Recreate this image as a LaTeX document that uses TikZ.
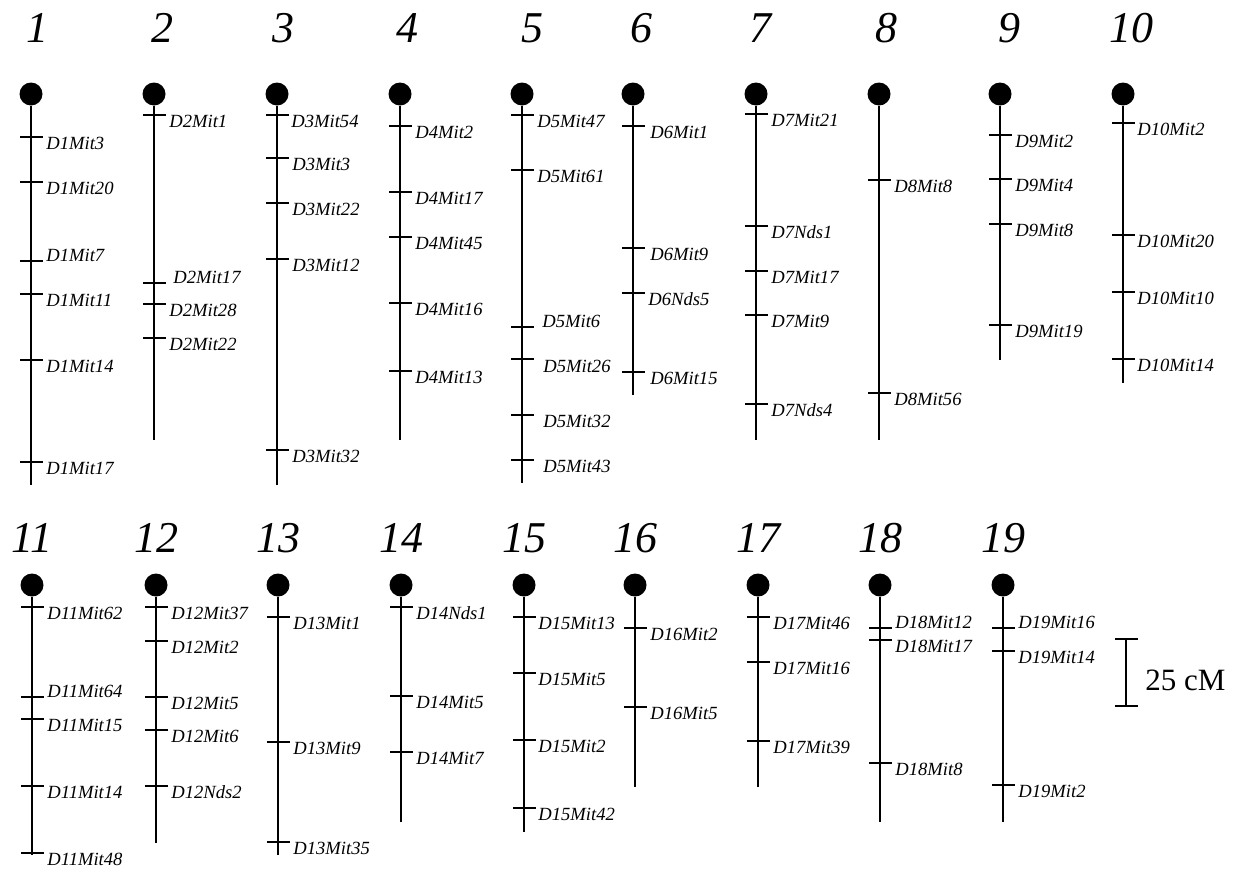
\documentclass[tikz,border=0pt]{standalone}
\usepackage{fontspec}
\setmainfont{Liberation Serif}
\tikzset{
  chr/.style={line width=1pt},
  tk/.style={line width=1pt},
  cent/.style={circle, fill=black, draw=none, inner sep=0pt, minimum size=11.5pt},
  mlab/.style={anchor=base west, inner sep=0pt, font=\fontsize{9.3}{11}\selectfont\itshape},
  num/.style={inner sep=0pt, font=\fontsize{22}{26}\selectfont\itshape},
  scl/.style={anchor=base west, inner sep=0pt, font=\fontsize{15.5}{18}\selectfont}
}
% #1 id, #2 x, #3 circle y, #4 end y, #5 number x offset, #6 number y
\newcommand{\chromo}[6]{%
  \node[cent] (c#1) at (#2,#3) {};
  \coordinate (e#1) at (#2,#4);
  \draw[chr] (c#1) -- (e#1);
  \node[num] (n#1) at (#2+#5,#6) {#1};
}
% #1 x, #2 tick y, #3 label, #4 dx, #5 dy
\newcommand{\mk}[5]{%
  \coordinate (#3-a) at (#1-11,#2);
  \coordinate (#3-b) at (#1+12,#2);
  \draw[tk] (#3-a) -- (#3-b);
  \node[mlab] (#3) at (#1+15+#4,#2+12+#5) {#3};
}
\begin{document}
\begin{tikzpicture}[x=0.5pt,y=-0.5pt]
\useasboundingbox (0,0) rectangle (1234,868);
% ---------- top row ----------
\chromo{1}{31}{94}{485}{6}{28}
\mk{31}{137}{D1Mit3}{0}{0}
\mk{31}{182}{D1Mit20}{0}{0}
\mk{31}{261}{D1Mit7}{0}{-12}
\mk{31}{294}{D1Mit11}{0}{0}
\mk{31}{360}{D1Mit14}{0}{0}
\mk{31}{462}{D1Mit17}{0}{0}

\chromo{2}{154}{94}{440}{8}{28}
\mk{154}{115}{D2Mit1}{0}{0}
\mk{154}{283}{D2Mit17}{4}{-12}
\mk{154}{304}{D2Mit28}{0}{0}
\mk{154}{338}{D2Mit22}{0}{0}

\chromo{3}{277}{94}{485}{6}{28}
\mk{277}{115}{D3Mit54}{-1}{0}
\mk{277}{158}{D3Mit3}{0}{0}
\mk{277}{203}{D3Mit22}{0}{0}
\mk{277}{259}{D3Mit12}{0}{0}
\mk{277}{450}{D3Mit32}{0}{0}

\chromo{4}{400}{94}{440}{7}{28}
\mk{400}{126}{D4Mit2}{0}{0}
\mk{400}{192}{D4Mit17}{0}{0}
\mk{400}{237}{D4Mit45}{0}{0}
\mk{400}{303}{D4Mit16}{0}{0}
\mk{400}{371}{D4Mit13}{0}{0}

\chromo{5}{522}{94}{483}{10}{28}
\mk{522}{115}{D5Mit47}{0}{0}
\mk{522}{170}{D5Mit61}{0}{0}
\mk{522}{327}{D5Mit6}{5}{-12}
\mk{522}{359}{D5Mit26}{6}{1}
\mk{522}{415}{D5Mit32}{6}{0}
\mk{522}{460}{D5Mit43}{6}{0}

\chromo{6}{633}{94}{395}{8}{28}
\mk{633}{126}{D6Mit1}{2}{0}
\mk{633}{248}{D6Mit9}{2}{0}
\mk{633}{293}{D6Nds5}{0}{0}
\mk{633}{372}{D6Mit15}{2}{0}

\chromo{7}{756}{94}{440}{4}{28}
\mk{756}{114}{D7Mit21}{0}{0}
\mk{756}{226}{D7Nds1}{0}{0}
\mk{756}{271}{D7Mit17}{0}{0}
\mk{756}{315}{D7Mit9}{0}{0}
\mk{756}{404}{D7Nds4}{0}{0}

\chromo{8}{879}{94}{440}{7}{28}
\mk{879}{180}{D8Mit8}{0}{0}
\mk{879}{393}{D8Mit56}{0}{0}

\chromo{9}{1000}{94}{360}{9}{28}
\mk{1000}{135}{D9Mit2}{0}{0}
\mk{1000}{179}{D9Mit4}{0}{0}
\mk{1000}{224}{D9Mit8}{0}{0}
\mk{1000}{325}{D9Mit19}{0}{0}

\chromo{10}{1123}{94}{383}{8}{28}
\mk{1123}{123}{D10Mit2}{-1}{0}
\mk{1123}{235}{D10Mit20}{-1}{0}
\mk{1123}{292}{D10Mit10}{-1}{0}
\mk{1123}{359}{D10Mit14}{-1}{0}

% ---------- bottom row ----------
\chromo{11}{32}{585}{855}{0}{538}
\mk{32}{607}{D11Mit62}{0}{0}
\mk{32}{697}{D11Mit64}{0}{-12}
\mk{32}{719}{D11Mit15}{0}{0}
\mk{32}{786}{D11Mit14}{0}{0}
\mk{32}{853}{D11Mit48}{0}{0}

\chromo{12}{156}{585}{843}{0}{538}
\mk{156}{607}{D12Mit37}{0}{0}
\mk{156}{641}{D12Mit2}{0}{0}
\mk{156}{697}{D12Mit5}{0}{0}
\mk{156}{730}{D12Mit6}{0}{0}
\mk{156}{786}{D12Nds2}{0}{0}

\chromo{13}{278}{585}{855}{0}{538}
\mk{278}{617}{D13Mit1}{0}{0}
\mk{278}{742}{D13Mit9}{0}{0}
\mk{278}{842}{D13Mit35}{0}{0}

\chromo{14}{401}{585}{822}{0}{538}
\mk{401}{607}{D14Nds1}{0}{0}
\mk{401}{696}{D14Mit5}{0}{0}
\mk{401}{752}{D14Mit7}{0}{0}

\chromo{15}{524}{585}{832}{0}{538}
\mk{524}{617}{D15Mit13}{-1}{0}
\mk{524}{673}{D15Mit5}{-1}{0}
\mk{524}{740}{D15Mit2}{-1}{0}
\mk{524}{808}{D15Mit42}{-1}{0}

\chromo{16}{635}{585}{787}{0}{538}
\mk{635}{628}{D16Mit2}{0}{0}
\mk{635}{707}{D16Mit5}{0}{0}

\chromo{17}{758}{585}{787}{0}{538}
\mk{758}{617}{D17Mit46}{0}{0}
\mk{758}{662}{D17Mit16}{0}{0}
\mk{758}{741}{D17Mit39}{0}{0}

\chromo{18}{880}{585}{822}{0}{538}
\mk{880}{628}{D18Mit12}{0}{-12}
\mk{880}{640}{D18Mit17}{0}{0}
\mk{880}{763}{D18Mit8}{0}{0}

\chromo{19}{1003}{585}{822}{0}{538}
\mk{1003}{628}{D19Mit16}{0}{-12}
\mk{1003}{651}{D19Mit14}{0}{0}
\mk{1003}{785}{D19Mit2}{0}{0}

% ---------- scale bar ----------
\coordinate (s1) at (1126,639);
\coordinate (s2) at (1126,706);
\coordinate (s1a) at (1115,639);
\coordinate (s1b) at (1138,639);
\coordinate (s2a) at (1115,706);
\coordinate (s2b) at (1138,706);
\draw[tk] (s1) -- (s2);
\draw[tk] (s1a) -- (s1b);
\draw[tk] (s2a) -- (s2b);
\node[scl] (scale) at (1145,690) {25 cM};
\end{tikzpicture}
\end{document}
